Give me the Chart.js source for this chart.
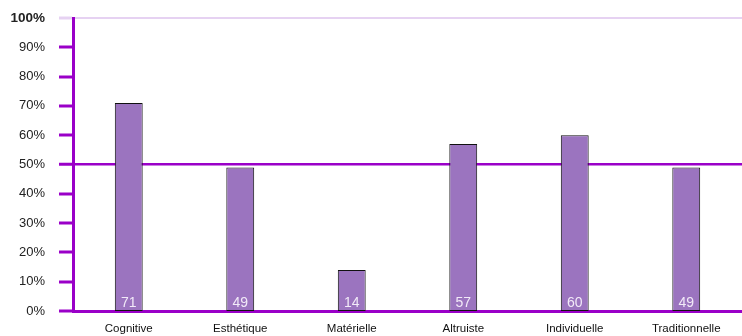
<!DOCTYPE html>
<html>
<head>
<meta charset="utf-8">
<script src="https://cdn.jsdelivr.net/npm/chart.js@4"></script>
<style>
  html, body { margin: 0; padding: 0; background: #fff; }
  #wrap { width: 742px; height: 336px; position: relative; }
</style>
</head>
<body>
<div id="wrap"><canvas id="chart"></canvas></div>
<script>
// values per motivation type
const categories = ['Cognitive', 'Esthétique', 'Matérielle', 'Altruiste', 'Individuelle', 'Traditionnelle'];
const scores = [71, 49, 14, 57, 60, 49];
const yTicks = [0, 10, 20, 30, 40, 50, 60, 70, 80, 90, 100];

const PURPLE = '#9a00c8';
const FONT = '"Liberation Sans", Arial, sans-serif';

// value printed at the foot of each bar
const barLabels = {
  id: 'barLabels',
  afterDatasetsDraw(chart) {
    const ctx = chart.ctx;
    const meta = chart.getDatasetMeta(0);
    ctx.save();
    ctx.font = '14px ' + FONT;
    ctx.fillStyle = '#f2eaf8';
    ctx.textAlign = 'center';
    ctx.textBaseline = 'alphabetic';
    meta.data.forEach((bar, i) => {
      ctx.fillText(String(scores[i]), bar.x, bar.base - 4);
    });
    ctx.restore();
  }
};

new Chart(document.getElementById('chart'), {
  type: 'bar',
  data: {
    labels: categories,
    datasets: [{
      data: scores,
      backgroundColor: '#9b74bf',
      borderColor: '#111',
      borderWidth: 1,
      borderSkipped: false,
      barPercentage: 0.25,
      categoryPercentage: 1
    }]
  },
  options: {
    responsive: true,
    maintainAspectRatio: false,
    animation: false,
    layout: { padding: { top: 18, right: 0, left: 0, bottom: 0 } },
    plugins: { legend: { display: false }, tooltip: { enabled: false } },
    scales: {
      x: {
        grid: { display: false },
        border: { color: PURPLE, width: 3 },
        ticks: { color: '#111', font: { family: FONT, size: 11.5 }, padding: 3 },
        afterFit(s) { s.height = 25; }
      },
      y: {
        min: 0,
        max: 100,
        afterBuildTicks(s) { s.ticks = yTicks.map(v => ({ value: v })); },
        border: { color: PURPLE, width: 3 },
        grid: {
          drawTicks: true,
          tickLength: 14,
          tickWidth: 3,
          lineWidth: c => c.tick && c.tick.value === 50 ? 2.5 : (c.tick && c.tick.value === 100 ? 2 : 0),
          color: c => c.tick && c.tick.value === 100 ? '#e6d2f2' : PURPLE,
          tickColor: c => c.tick && c.tick.value === 100 ? '#e6d2f2' : PURPLE
        },
        ticks: {
          padding: 14,
          color: '#222',
          callback: v => v + '%',
          font: c => c.tick && c.tick.value === 100
            ? { family: FONT, size: 13.5, weight: 'bold' }
            : { family: FONT, size: 13 }
        },
        afterFit(s) {
          s.width = 73;
          s.paddingTop = 0;
          s.paddingBottom = 0;
        }
      }
    }
  },
  plugins: [barLabels]
});
</script>
</body>
</html>
